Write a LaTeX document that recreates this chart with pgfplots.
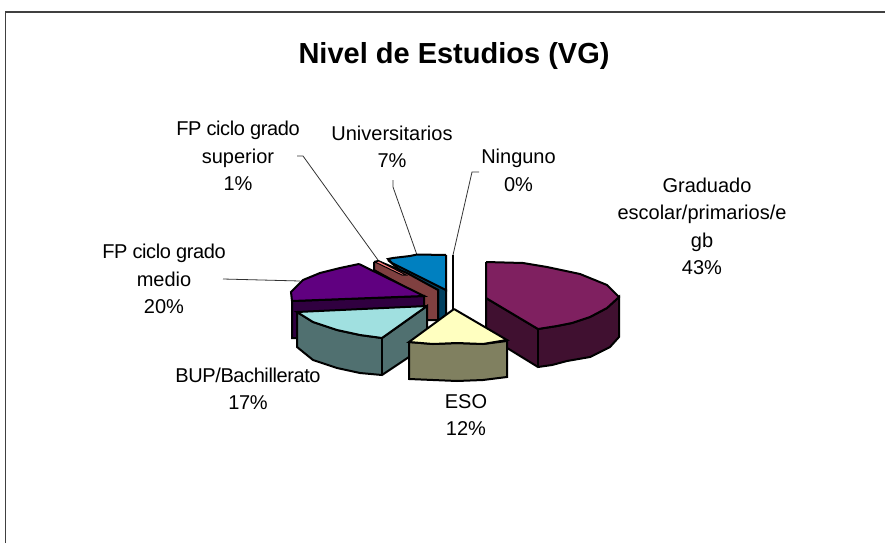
\documentclass[border=0pt]{standalone}
\usepackage{pgfplots}
\pgfplotsset{compat=1.18}
\usepackage{fontspec}
\setmainfont{Liberation Sans}
\definecolor{gradT}{HTML}{7F2060}
\definecolor{gradS}{HTML}{401030}
\definecolor{esoT}{HTML}{FFFFC0}
\definecolor{esoS}{HTML}{808060}
\definecolor{bupT}{HTML}{A0E0E0}
\definecolor{bupS}{HTML}{507070}
\definecolor{medT}{HTML}{600080}
\definecolor{medS}{HTML}{300040}
\definecolor{supT}{HTML}{FF8080}
\definecolor{supS}{HTML}{804040}
\definecolor{uniT}{HTML}{0080C0}
\definecolor{uniS}{HTML}{004060}
\tikzset{lbl/.style={align=center, font=\fontsize{20}{27.5}\selectfont, inner sep=0pt}}
\begin{document}
\begin{tikzpicture}
\begin{axis}[hide axis, scale only axis, width=886pt, height=543pt,
  xmin=0, xmax=886, ymin=0, ymax=543, y dir=reverse, clip=false,
  every axis plot/.append style={line width=2pt, line join=miter, draw=black}]
% page extent
\addplot[draw=none, line width=0pt] coordinates {(0,0) (886,543)};
% frame
\addplot[line width=1.2pt, draw=black!75] coordinates {(5.5,543) (5.5,12) (885.4,12)};
% leader lines
\addplot[line width=0.8pt, draw=black!80] coordinates {(223,279) (300,281)};
\addplot[line width=0.8pt, draw=black!80] coordinates {(297,156) (303,156) (378,260)};
\addplot[line width=0.8pt, draw=black!80] coordinates {(393,180) (393,187) (417,255)};
\addplot[line width=0.8pt, draw=black!80] coordinates {(479,172) (472,172) (453,255)};
% Universitarios
\addplot[fill=uniS] coordinates {(388,260) (446,290) (446,315) (438,322) (438,290) (403,273) (388,260)};
\addplot[fill=uniT] coordinates {(446,255) (446,290) (392,263) (388,259) (393,258) (410,256) (417,254.5) (446,255)};
% FP superior
\addplot[fill=supS] coordinates {(374,262) (374,270) (423,297) (425,320) (438,320) (438,290) (407,273) (378,261) (374,262)};
\addplot[fill=supT, line width=1pt] coordinates {(375,262) (379,261) (406,275) (402,275) (375,262)};
% FP medio
\addplot[fill=medS] coordinates {(292,301) (424,296) (424,320) (297,320) (297,338) (292,338) (292,301)};
\addplot[fill=medT] coordinates {(359,264) (424,296) (292,301) (291,292) (303,280) (320,273) (340,268) (359,264)};
% BUP
\addplot[fill=bupS] coordinates {(297,312) (313,322) (337,330) (360,335) (382,338) (427,306) (427,345) (382,375) (360,373) (337,368) (313,360) (297,347) (297,312)};
\addplot[fill=bupT] coordinates {(427,306) (297,312) (313,322) (337,330) (360,335) (382,338) (427,306)};
\addplot[line width=2pt] coordinates {(382,338) (382,375)};
% Ninguno
\addplot[line width=2.4pt] coordinates {(453,255) (453,309)};
% Graduado
\addplot[fill=gradS] coordinates {(486,298) (538,329) (557,326) (572,323) (590,317) (607,308) (619,297) (619,337) (610,347) (590,357) (567,361) (552,365) (538,367) (486,335) (486,298)};
\addplot[line width=2pt] coordinates {(538,329) (538,367)};
\addplot[fill=gradT] coordinates {(486,262) (523,263) (547,267) (580,274) (607,285) (619,297) (607,308) (590,317) (572,323) (557,326) (538,329) (486,298) (486,262)};
% ESO
\addplot[fill=esoS] coordinates {(409,342) (433,344) (457,343) (483,344) (507,341) (507,377) (483,380) (457,381) (433,380) (409,379) (409,342)};
\addplot[fill=esoT] coordinates {(454,309) (507,340) (483,344) (457,343) (433,344) (409,342) (454,309)};
% texts
\node[font=\fontsize{29}{33}\bfseries\selectfont, inner sep=0pt] at (axis cs:454,56) {Nivel de Estudios (VG)};
\node[lbl] at (axis cs:702,226.5) {\hspace*{10pt}Graduado\\escolar/primarios/e\\gb\\43\%};
\node[lbl] at (axis cs:466,415) {ESO\\12\%};
\node[lbl] at (axis cs:248,389) {\addfontfeature{LetterSpace=-2}BUP/Bachillerato\\\addfontfeature{LetterSpace=-2}17\%};
\node[lbl] at (axis cs:164,279) {\addfontfeature{LetterSpace=-2}FP ciclo grado\\medio\\20\%};
\node[lbl] at (axis cs:238,156) {\addfontfeature{LetterSpace=-2}FP ciclo grado\\superior\\1\%};
\node[lbl] at (axis cs:392,147) {Universitarios\\7\%};
\node[lbl] at (axis cs:518.5,170.5) {Ninguno\\0\%};
\end{axis}
\end{tikzpicture}
\end{document}
